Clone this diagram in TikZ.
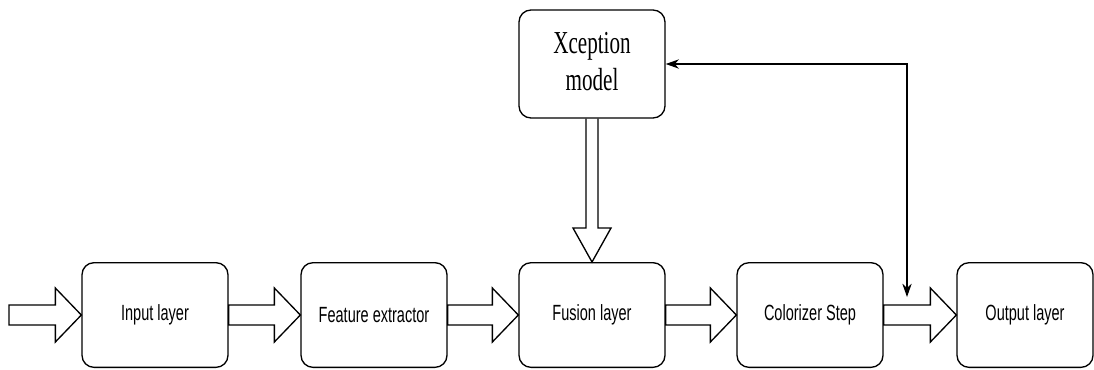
\documentclass[tikz,border=0pt]{standalone}
\usepackage{fontspec}
\setmainfont{Liberation Serif}
\setsansfont{Liberation Sans}
\usetikzlibrary{calc,arrows.meta}

% narrow (condensed) lettering as in the figure
\newcommand{\narrowtext}[1]{\scalebox{0.66}[1]{#1}}
% hollow block arrows: #1 tail, #2 tip
\newcommand{\fatarrowh}[2]{\draw ($(#1)+(0,-10)$) -- ($(#2)+(-26,-10)$) -- ($(#2)+(-26,-27)$) -- (#2) -- ($(#2)+(-26,27)$) -- ($(#2)+(-26,10)$) -- ($(#1)+(0,10)$) -- cycle;}
\newcommand{\fatarrowv}[2]{\draw ($(#1)+(-6,0)$) -- ($(#2)+(-6,-34)$) -- ($(#2)+(-19,-34)$) -- (#2) -- ($(#2)+(19,-34)$) -- ($(#2)+(6,-34)$) -- ($(#1)+(6,0)$);}

\tikzset{every picture/.style={line width=1pt},
  layerbox/.style={draw, rounded corners=9pt, minimum width=109.5pt, minimum height=78.5pt, inner sep=0pt,
    font=\sffamily\fontsize{16.5}{20}\selectfont},
  modelbox/.style={draw, rounded corners=9pt, minimum width=109.5pt, minimum height=81pt, inner sep=0pt,
    font=\rmfamily\fontsize{24}{30}\selectfont}}

\begin{document}
\begin{tikzpicture}[x=0.75pt,y=0.75pt,yscale=-1,xscale=1]
\useasboundingbox (0,0) rectangle (1094,369);
\clip (0,0) rectangle (1094,369);

%Rounded Rect: layers
\node[layerbox] (inp) at (155,315) {\narrowtext{Input layer}};
\node[layerbox] (feat) at (374,315) {\narrowtext{Feature extractor}};
\node[layerbox] (fus) at (592,315) {\narrowtext{Fusion layer}};
\node[layerbox] (col) at (810,315) {\narrowtext{Colorizer Step}};
\node[layerbox, minimum width=102pt] (out) at (1025,315) {\narrowtext{Output layer}};
%Rounded Rect: model
\node[modelbox] (xcp) at (592,64) {\narrowtext{\begin{tabular}{@{}c@{}}Xception\\[-2pt]model\end{tabular}}};

%Block Arrows
\coordinate (start) at (9,315);
\fatarrowh{start}{inp.west}
\fatarrowh{inp.east}{feat.west}
\fatarrowh{feat.east}{fus.west}
\fatarrowh{fus.east}{col.west}
\fatarrowh{col.east}{out.west}
\fatarrowv{xcp.south}{fus.north}

%Straight Lines: feedback
\coordinate (fb) at (907,297);
\draw [{Stealth[length=10pt,width=7pt]}-{Stealth[length=10pt,width=7pt]}, line width=0.9pt] (xcp.east) -- (xcp.east -| fb) -- (fb);

\end{tikzpicture}
\end{document}
